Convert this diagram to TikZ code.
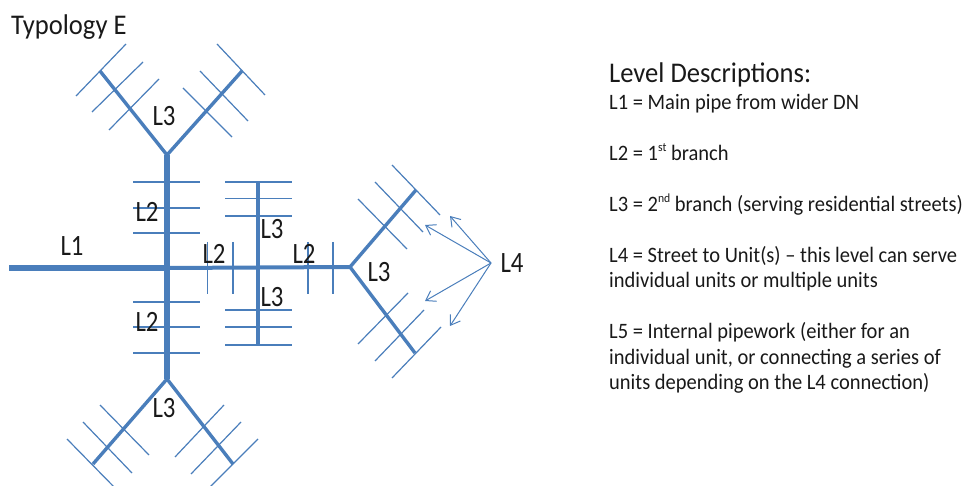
\documentclass[tikz,border=0pt]{standalone}
\usepackage{fontspec}
\setmainfont[FakeStretch=0.932]{Carlito}
\newfontfamily\labfont[FakeStretch=0.84]{Carlito}
\usetikzlibrary{arrows.meta}
\definecolor{pipe}{HTML}{4A7EBB}
\newcommand{\supr}[1]{\raisebox{.42em}{\fontsize{12.5}{12.5}\selectfont #1}}
\tikzset{
  x=1pt,y=-1pt,
  main/.style={draw=pipe,line width=5.6pt},
  sub/.style={draw=pipe,line width=4pt},
  mid/.style={draw=pipe,line width=3.6pt},
  arm/.style={draw=pipe,line width=3.4pt},
  bar/.style={draw=pipe,line width=2pt},
  fine/.style={draw=pipe,line width=1.2pt},
  ptr/.style={draw=pipe,line width=1pt,-{Straight Barb[length=9pt,width=12pt,line width=1pt]}},
  lab/.style={font=\labfont\fontsize{29.5}{29.5}\selectfont,inner sep=0pt,text=black!90},
  desc/.style={font=\fontsize{22}{22}\selectfont,inner sep=0pt,anchor=base west,text=black!90},
  head/.style={font=\fontsize{28.5}{28.5}\selectfont,inner sep=0pt,anchor=base west,text=black!90},
}
\begin{document}
\begin{tikzpicture}
\useasboundingbox (0,0) rectangle (964,486);
% junctions
\coordinate (jt) at (167,155);
\coordinate (jc) at (167,268);
\coordinate (jb) at (167,379);
\coordinate (jm) at (258,267.5);
\coordinate (jr) at (350,267);
\coordinate (start) at (9,268);
% pipes
\draw[main] (start) -- (jc);
\draw[main] (jt) -- (jb);
\draw[sub] (jc) -- (jm) -- (jr);
\draw[mid] (258,182) -- (jm) -- (258,345);
% top Y
\draw[arm] (jt) -- (100,71);
\draw[arm] (jt) -- (242,71);
\draw[fine] (76,96) -- (126,44);
\draw[fine] (92,112) -- (143,62);
\draw[fine] (109,130) -- (159,79);
\draw[fine] (217,44) -- (265,95);
\draw[fine] (200,71) -- (248,121);
\draw[fine] (183,88) -- (232,137);
% bars on main vertical
\foreach \y/\s in {182/bar,208/bar,233/bar,302/bar,327/bar,353/fine}
  \draw[\s] (133,\y) -- (200,\y);
% bars on middle vertical
\foreach \y/\s in {182/bar,198.5/fine,216/bar,310/bar,327/bar,345/bar}
  \draw[\s] (225,\y) -- (292,\y);
% ticks
\draw[fine] (207.5,242) -- (207.5,294);
\foreach \x in {233,308,333}
  \draw[bar] (\x,242) -- (\x,294);
% right Y
\draw[arm] (jr) -- (416,190);
\draw[arm] (jr) -- (415,353);
\draw[fine] (392,165) -- (440,215);
\draw[fine] (375,182) -- (423,232);
\draw[fine] (358,199) -- (407,249);
\draw[fine] (408,293) -- (358,344);
\draw[fine] (424,310) -- (375,361);
\draw[fine] (441,327) -- (392,378);
% bottom Y
\draw[arm] (jb) -- (93,464);
\draw[arm] (jb) -- (233,464);
\draw[fine] (67,439) -- (117,490);
\draw[fine] (83,422) -- (132,473);
\draw[fine] (100,405) -- (149,455);
\draw[fine] (175,457) -- (224,405);
\draw[fine] (191,474) -- (241,422);
\draw[fine] (208,489) -- (258,439);
% L4 pointers
\coordinate (p) at (491,263);
\coordinate (a1) at (450,216);
\coordinate (a2) at (425,225);
\coordinate (a3) at (425,301);
\coordinate (a4) at (450,326);
\foreach \t in {a1,a2,a3,a4} \draw[ptr] (p) -- (\t);
% labels
\node[lab] (l1) at (72,246) {L1};
\node[lab] (l2a) at (147,212) {L2};
\node[lab] (l3a) at (164,116) {L3};
\node[lab] (l3b) at (272,229) {L3};
\node[lab] (l2b) at (214,254) {L2};
\node[lab] (l2c) at (304,254) {L2};
\node[lab] (l3c) at (272,297) {L3};
\node[lab] (l3d) at (379,272) {L3};
\node[lab] (l2d) at (147,322) {L2};
\node[lab] (l3e) at (164,408) {L3};
\node[lab] (l4) at (512,263) {L4};
% text
\node[head] (title) at (11,35) {Typology E};
\node[head] (hd) at (609,83) {Level Descriptions:};
\node[desc] (d1) at (609,110) {L1 = Main pipe from wider DN};
\node[desc] (d2) at (609,161) {L2 = 1\supr{st} branch};
\node[desc] (d3) at (609,212) {L3 = 2\supr{nd} branch (serving residential streets)};
\node[desc] (d4) at (609,263) {L4 = Street to Unit(s) -- this level can serve};
\node[desc] (d5) at (609,288) {individual units or multiple units};
\node[desc] (d6) at (609,339) {L5 = Internal pipework (either for an};
\node[desc] (d7) at (609,364) {individual unit, or connecting a series of};
\node[desc] (d8) at (609,389) {units depending on the L4 connection)};
\end{tikzpicture}
\end{document}
